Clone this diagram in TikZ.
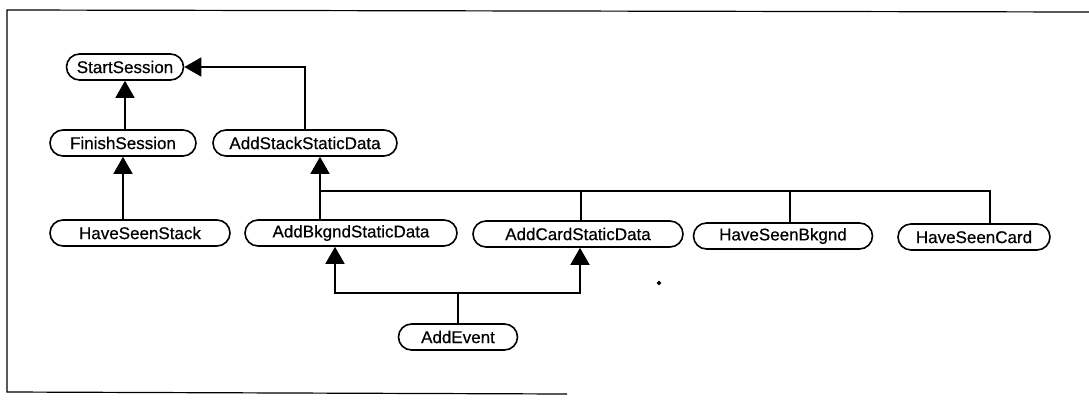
\documentclass[tikz,border=0pt]{standalone}
\usepackage{fontspec}
\newfontfamily\boxfont{Liberation Sans}[FakeBold=0.5]
\usetikzlibrary{arrows.meta}

\tikzset{
  proc/.style={draw, line width=1.6pt, rounded corners=13pt, minimum height=26pt,
    inner sep=0pt, font=\boxfont\fontsize{17}{19}\selectfont},
}

\begin{document}
\begin{tikzpicture}[x=1pt, y=-1pt, >={Triangle[length=17pt,width=19pt]}, line width=1.5pt]
  \useasboundingbox (0,0) rectangle (1089,402);
  % frame (left, top, part of bottom)
  \draw [line width=1.2pt] (1089,12) -- (7,10) -- (7,392) -- (567,394);

  \node [proc, minimum width=117pt] (start) at (125,67) {StartSession};
  \node [proc, minimum width=146pt] (fin) at (123,143) {FinishSession};
  \node [proc, minimum width=184pt] (ass) at (305,143) {AddStackStaticData};
  \node [proc, minimum width=180pt] (hss) at (140,233) {HaveSeenStack};
  \node [proc, minimum width=212pt] (abs) at (351,233) {AddBkgndStaticData};
  \node [proc, minimum width=210pt] (acs) at (578,234) {AddCardStaticData};
  \node [proc, minimum width=179pt] (hsb) at (783,236) {HaveSeenBkgnd};
  \node [proc, minimum width=152pt] (hsc) at (974,237) {HaveSeenCard};
  \node [proc, minimum width=119pt] (ae) at (458,337) {AddEvent};

  \coordinate (bus) at (320,191);
  \coordinate (split) at (458,293);

  \draw [->] (fin.north -| start) -- (start.south);
  \draw [->] (hss.north -| fin) -- (fin.south);
  \draw [->] (ass.north) |- (start.east);
  \draw [->] (bus) -- (bus |- ass.south);
  \draw (bus) -- (bus |- abs.north);
  \draw (bus) -| ([xshift=16pt]hsc.north);
  \draw ([xshift=3pt]acs.north |- bus) -- ([xshift=3pt]acs.north);
  \draw ([xshift=7pt]hsb.north |- bus) -- ([xshift=7pt]hsb.north);
  \draw (ae.north) -- (split);
  \draw [->] (split) -| ([xshift=-16pt]abs.south);
  \draw [->] (split) -| ([xshift=2pt]acs.south);
  \filldraw (659,283) circle (1.3pt);
\end{tikzpicture}
\end{document}
